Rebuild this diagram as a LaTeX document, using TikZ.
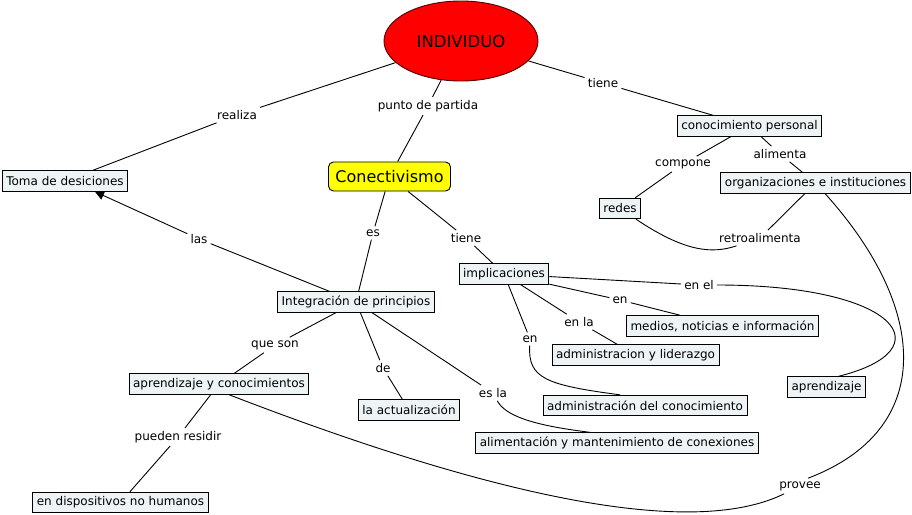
\documentclass[tikz,border=0pt]{standalone}
\usepackage{fontspec}
\setmainfont{DejaVu Sans}
\usetikzlibrary{shapes.geometric,arrows.meta}
\definecolor{boxfill}{RGB}{238,244,245}
\definecolor{indfill}{RGB}{255,0,0}
\definecolor{conecfill}{RGB}{255,255,0}
\tikzset{
  conbox/.style={draw=black, line width=0.9pt, fill=boxfill, inner xsep=4pt, inner ysep=2pt,
    minimum height=20.5pt, font=\fontsize{12}{14}\selectfont},
  linklab/.style={inner sep=3pt, font=\fontsize{12}{14}\selectfont},
  indiv/.style={ellipse, draw=black!70!red, line width=0.9pt, fill=indfill, minimum width=154pt,
    minimum height=80pt, inner sep=0pt, font=\fontsize{16.5}{18}\selectfont},
  conec/.style={draw=black, line width=0.9pt, fill=conecfill, rounded corners=5pt, minimum width=122pt,
    minimum height=29pt, inner sep=2pt, font=\fontsize{16}{18}\selectfont},
  conn/.style={line width=0.9pt, draw=black}
}
\begin{document}
\begin{tikzpicture}[x=1pt,y=-1pt]
\useasboundingbox (0,0) rectangle (912,514);
% concepts
\node[indiv] (ind) at (461,41) {INDIVIDUO};
\node[conec] (con) at (389.5,176.5) {Conectivismo};
\node[conbox] (toma) at (65,181) {Toma de desiciones};
\node[conbox] (cp) at (749.5,126) {conocimiento personal};
\node[conbox] (org) at (815.5,183) {organizaciones e instituciones};
\node[conbox] (redes) at (620,208.5) {redes};
\node[conbox] (impl) at (504,274) {implicaciones};
\node[conbox] (integ) at (356,302) {Integración de principios};
\node[conbox] (medios) at (722.5,326) {medios, noticias e información};
\node[conbox] (admlid) at (635.5,355) {administracion y liderazgo};
\node[conbox] (apc) at (219,384) {aprendizaje y conocimientos};
\node[conbox] (act) at (409,410) {la actualización};
\node[conbox] (admcon) at (645,405.5) {administración del conocimiento};
\node[conbox] (apr) at (826.5,387) {aprendizaje};
\node[conbox] (alim) at (617,443) {alimentación y mantenimiento de conexiones};
\node[conbox] (disp) at (120.5,502.5) {en dispositivos no humanos};
% linking phrases
\node[linklab] (realiza) at (237,115) {realiza};
\node[linklab] (punto) at (428,106) {punto de partida};
\node[linklab] (tiene1) at (603,83) {tiene};
\node[linklab] (compone) at (683,164) {compone};
\node[linklab] (alimenta) at (780,154) {alimenta};
\node[linklab] (retro) at (760,238) {retroalimenta};
\node[linklab] (es) at (373,233) {es};
\node[linklab] (tiene2) at (466,238) {tiene};
\node[linklab] (las) at (199,239) {las};
\node[linklab] (queson) at (275,345) {que son};
\node[linklab] (de) at (383,368) {de};
\node[linklab] (enel) at (699,285) {en el};
\node[linklab] (en1) at (620,300) {en};
\node[linklab] (enla) at (579,322) {en la};
\node[linklab] (en2) at (530,339) {en};
\node[linklab] (esla) at (493,393) {es la};
\node[linklab] (pueden) at (178,437) {pueden residir};
\node[linklab] (provee) at (800,486) {provee};
% connectors
\draw[conn] (ind) -- (realiza);
\draw[conn] (realiza) -- (toma);
\draw[conn] (ind) -- (punto);
\draw[conn] (punto) -- (con);
\draw[conn] (ind) -- (tiene1);
\draw[conn] (tiene1) -- (cp);
\draw[conn] (cp) -- (compone);
\draw[conn] (compone) -- (redes);
\draw[conn] (cp) -- (alimenta);
\draw[conn] (alimenta) -- (org);
\draw[conn] (org) -- (retro);
\draw[conn] (retro) .. controls (712,254) and (685,252) .. (redes);
\draw[conn] (org) .. controls (930,310) and (935,430) .. ([xshift=8pt]provee.north);
\draw[conn] (provee) .. controls (680,545) and (450,480) .. ([xshift=10pt]apc.south);
\draw[conn] (con) -- (es);
\draw[conn] (es) -- (integ);
\draw[conn] (con) -- (tiene2);
\draw[conn] (tiene2) -- (impl);
\draw[conn] (integ) -- (las);
\draw[conn, -{Triangle[length=9pt,width=9pt]}] (las) -- ([xshift=30pt]toma.south);
\draw[conn] (integ) -- (queson);
\draw[conn] (queson) -- (apc);
\draw[conn] (integ) -- (de);
\draw[conn] (de) -- (act);
\draw[conn] (integ) -- (esla);
\draw[conn] (esla) .. controls (505,415) and (530,425) .. ([xshift=-27pt]alim.north);
\draw[conn] (impl) -- (enel);
\draw[conn] (enel) .. controls (900,285) and (945,350) .. ([xshift=12pt]apr.north);
\draw[conn] (impl) -- (en1);
\draw[conn] (en1) -- (medios);
\draw[conn] (impl) -- (enla);
\draw[conn] (enla) -- (admlid);
\draw[conn] (impl) -- (en2);
\draw[conn] (en2) .. controls (528,378) and (545,385) .. ([xshift=-25pt]admcon.north);
\draw[conn] (apc) -- (pueden);
\draw[conn] (pueden) -- (disp);
\end{tikzpicture}
\end{document}
